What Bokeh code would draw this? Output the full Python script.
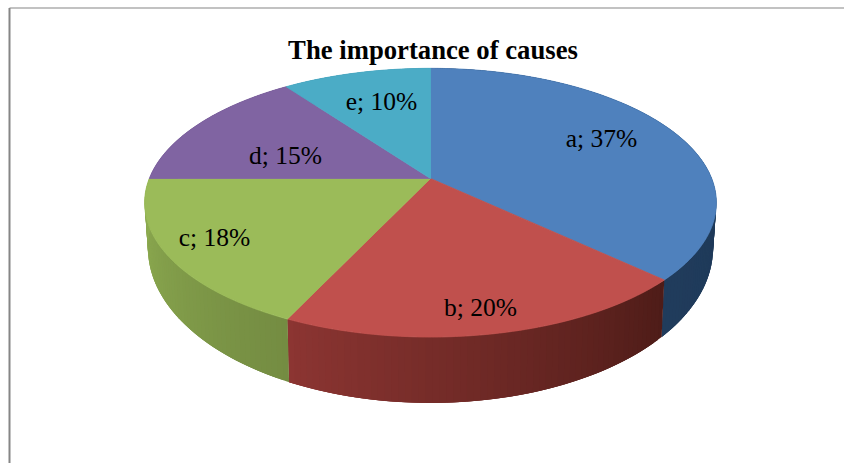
import math
from bokeh.embed import file_html
from bokeh.models import Range1d
from bokeh.plotting import figure
from bokeh.resources import INLINE
from bokeh.core.properties import value

TITLE = "The importance of causes"
categories = ["a", "b", "c", "d", "e"]
shares = [37, 20, 18, 15, 10]
top_colors = ["#4F81BD", "#C0504D", "#9BBB59", "#8064A2", "#4BACC6"]
# side wall colour at the start and end of each slice, clockwise
wall_colors = [
    ("#1A3350", "#203C5C"),
    ("#4E1C18", "#8C3532"),
    ("#748C42", "#90AF52"),
    ("#6A5387", "#6A5387"),
    ("#3A8AA0", "#3A8AA0"),
]
label_centers = [(601, 138), (480, 307), (214, 237), (285, 155), (381, 101)]

W, H = 844, 463
CX = 430
PERSPECTIVE = 0.18


def project(theta, level):
    """Tilted-disc projection: theta is clockwise from the far side of the pie."""
    u, v = math.sin(theta), math.cos(theta)
    w = 1 + PERSPECTIVE * v
    if level == "top":
        return CX + 281.2 * u / w, 178 - 130 * v / w
    return CX + 278 * u / w, 219.5 - 150 * v / w


def hex_mix(c0, c1, t):
    a = [int(c0[i:i + 2], 16) for i in (1, 3, 5)]
    b = [int(c1[i:i + 2], 16) for i in (1, 3, 5)]
    return "#%02x%02x%02x" % tuple(round(x + (y - x) * t) for x, y in zip(a, b))


p = figure(width=W, height=H, output_backend="svg", toolbar_location=None,
           x_range=Range1d(0, W), y_range=Range1d(H, 0),
           min_border=0, outline_line_color=None)
p.axis.visible = False
p.grid.visible = False
p.background_fill_color = "white"
p.border_fill_color = "white"

# chart frame: only its top and left edges fall on the page
p.line([9, 9], [H, 7.5], line_color="#868686", line_width=2)
p.line([9, W], [7.5, 7.5], line_color="#868686", line_width=1.2)

total = sum(shares)
edges = [0.0]
for s in shares:
    edges.append(edges[-1] + 2 * math.pi * s / total)

# side walls as overlapping strips, shaded along the rim; the top face hides the rear ones
for i in range(len(shares)):
    a0, a1 = edges[i], edges[i + 1]
    n = max(2, int((a1 - a0) / 0.02))
    for k in range(n):
        t0 = a0 + (a1 - a0) * k / n
        t1 = a0 + (a1 - a0) * min(k + 3, n) / n
        pts = [project(t0, "top"), project(t1, "top"), project(t1, "bot"), project(t0, "bot")]
        col = hex_mix(wall_colors[i][0], wall_colors[i][1], (k + .5) / n)
        p.patch([q[0] for q in pts], [q[1] for q in pts], fill_color=col, line_color=None)

# top faces
for i in range(len(shares)):
    a0, a1 = edges[i], edges[i + 1]
    n = max(8, int((a1 - a0) / 0.01))
    pts = [project(a0 + (a1 - a0) * k / n, "top") for k in range(n + 1)]
    xs = [CX] + [q[0] for q in pts]
    ys = [178] + [q[1] for q in pts]
    p.patch(xs, ys, fill_color=top_colors[i], line_color=top_colors[i], line_width=0.8)

labels = [f"{c}; {s}%" for c, s in zip(categories, shares)]
p.text([q[0] for q in label_centers], [q[1] for q in label_centers], text=labels,
       text_font=value("Liberation Serif"), text_font_size="25.5px", text_color="black",
       text_align="center", text_baseline="middle")
p.text([432.5], [49.5], text=[TITLE], text_font=value("Liberation Serif"),
       text_font_size="26.7px", text_font_style="bold", text_color="black",
       text_align="center", text_baseline="middle")

open("out.html", "w").write(file_html(p, INLINE))
